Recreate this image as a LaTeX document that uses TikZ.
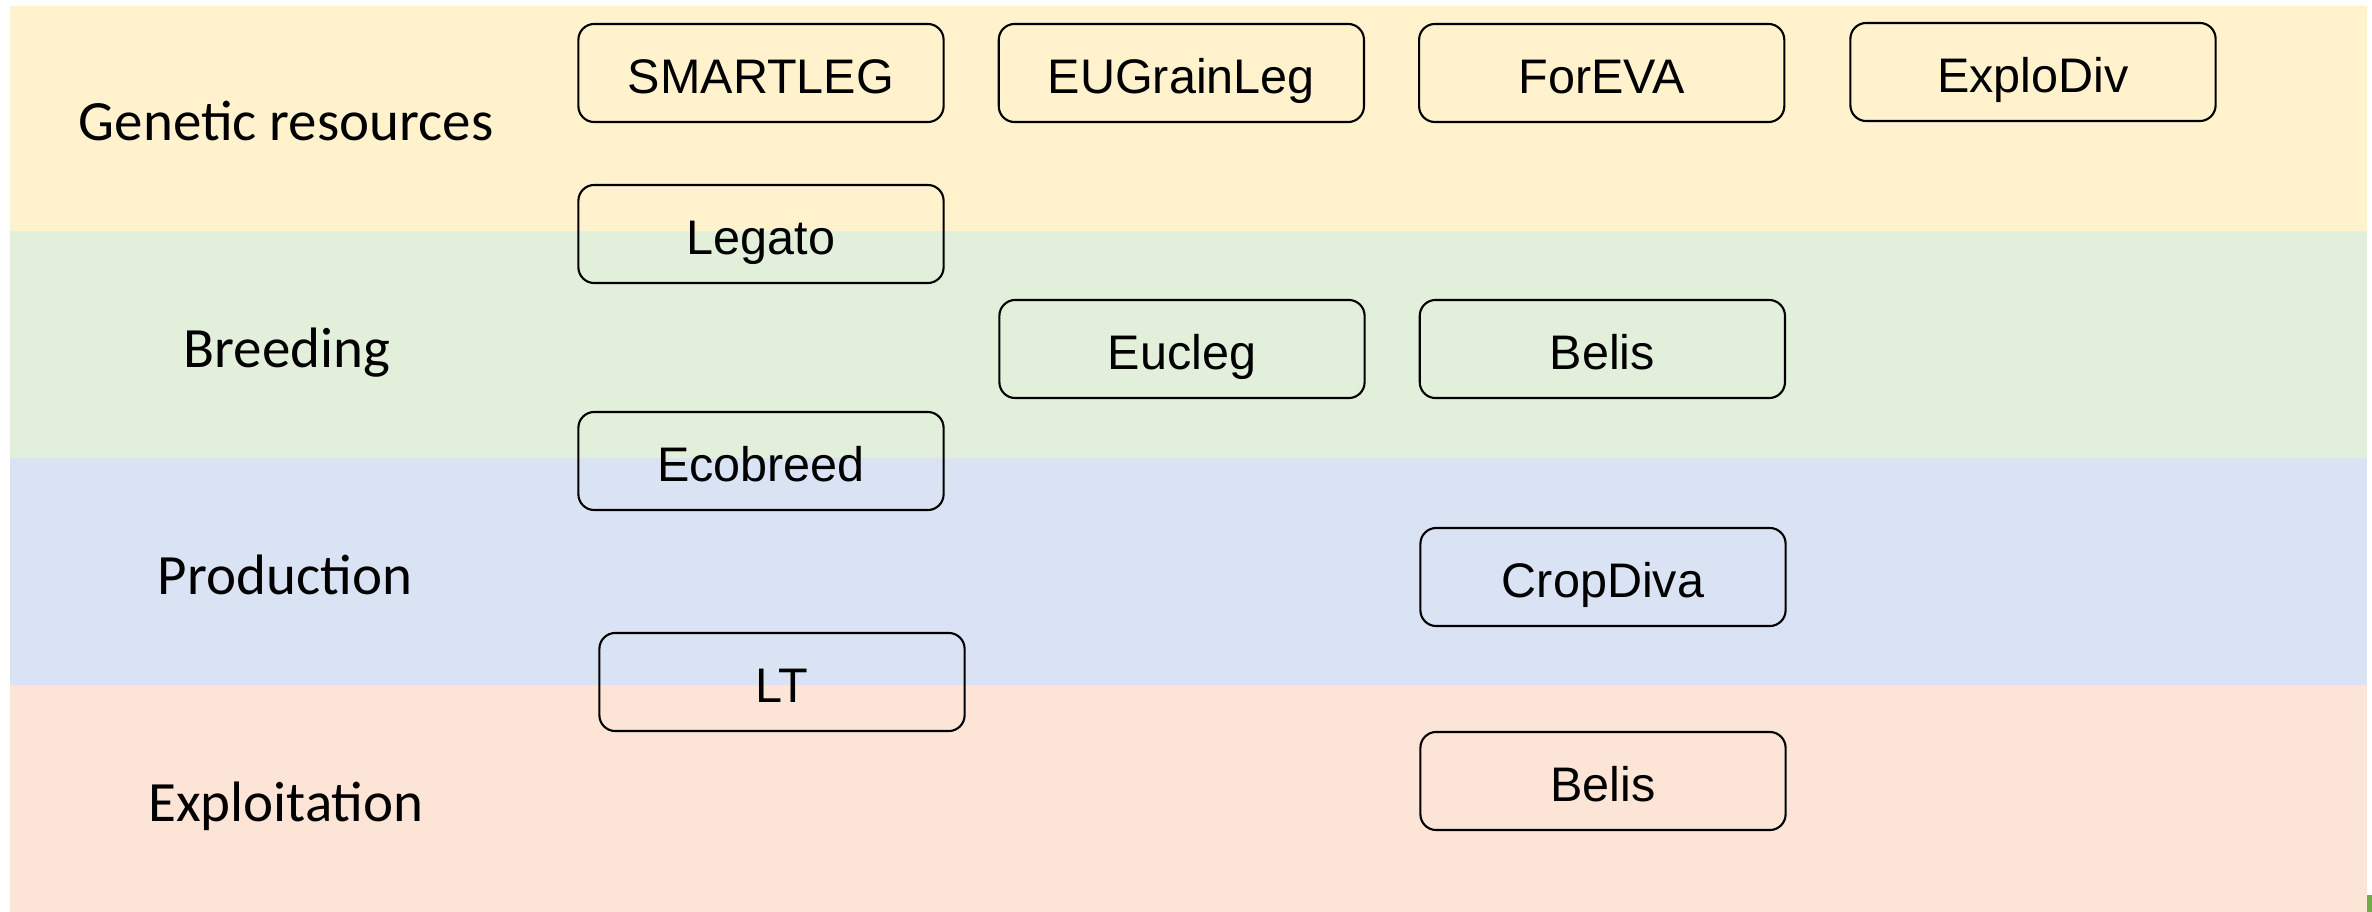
\documentclass[tikz,border=0pt]{standalone}
\usepackage{fontspec}
\setmainfont{Liberation Sans}
\newfontfamily\stagefont{Carlito}
\usetikzlibrary{positioning}
\definecolor{genres}{HTML}{FFF2CC}
\definecolor{breed}{HTML}{E2EFDA}
\definecolor{prod}{HTML}{DAE3F3}
\definecolor{exploit}{HTML}{FCE4D6}
\definecolor{marker}{HTML}{70AD47}
\tikzset{
    layers/.style={x=0.01cm,y=-0.01cm,node distance=0.53cm},
    project/.style={rectangle,draw,rounded corners=4.5pt,line width=0.6pt,
                     minimum width=3.65cm,minimum height=0.98cm,inner sep=0pt,
                     text height=14.4pt,text depth=3pt,
                     font=\fontsize{13.8}{16}\selectfont},
    stage/.style={inner sep=0pt,anchor=base,
                     font=\stagefont\fontsize{16.2}{19}\selectfont},
    }

\begin{document}
\begin{tikzpicture}[layers]
            \useasboundingbox (0,0) rectangle (2372,912);
            % bands
            \fill[genres] (10,6) rectangle (2367,231);
            \fill[breed] (10,231) rectangle (2367,458);
            \fill[prod] (10,458) rectangle (2367,685);
            \fill[exploit] (10,685) rectangle (2367,912);
            \fill[marker] (2367,895) rectangle (2372,912);

            \node[stage] (genetic) at (286,140) {Genetic resources};
            \node[stage] (breeding) at (287,367) {Breeding};
            \node[stage] (production) at (285,594) {Production};
            \node[stage] (exploitation) at (286,821) {Exploitation};

            \node[project] (smartleg) at (761,73) {SMARTLEG};
            \node[project] (eugrainleg) [right=of smartleg] {EUGrainLeg};
            \node[project] (foreva) [right=of eugrainleg] {ForEVA};
            \node[project] (explodiv) at (2033,72) {ExploDiv};
            \node[project] (legato) at (761,234) {Legato};
            \node[project] (eucleg) at (1182,349) {Eucleg};
            \node[project] (belisA) [right=of eucleg] {Belis};
            \node[project] (ecobreed) at (761,461) {Ecobreed};
            \node[project] (cropdiva) at (1603,577) {CropDiva};
            \node[project] (lt) at (782,682) {LT};
            \node[project] (belisB) at (1603,781) {Belis};
        \end{tikzpicture}
\end{document}
